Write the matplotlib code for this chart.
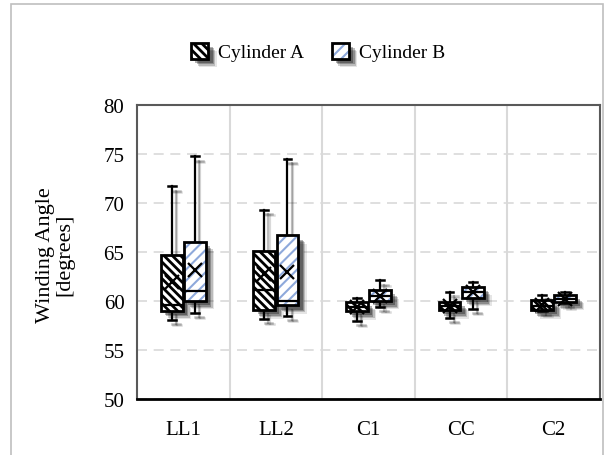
import matplotlib
matplotlib.use("Agg")
import matplotlib.pyplot as plt
import matplotlib.patheffects as pe
from matplotlib.patches import Patch, Rectangle, PathPatch
from matplotlib.legend_handler import HandlerTuple
import numpy as np

plt.rcParams['font.family'] = ['Liberation Serif', 'DejaVu Serif']

categories = ["LL1", "LL2", "C1", "CC", "C2"]
series_names = ["Cylinder A", "Cylinder B"]

# Cylinder A statistics
a_whislo = [58.1, 58.2, 58.0, 58.3, 59.0]
a_q1     = [59.0, 59.05, 58.95, 59.05, 59.05]
a_med    = [59.6, 61.1, 59.4, 59.5, 59.5]
a_q3     = [64.7, 65.1, 59.9, 59.9, 60.1]
a_whishi = [71.7, 69.3, 60.3, 60.9, 60.6]
a_mean   = [61.95, 62.8, 59.4, 59.5, 59.6]

# Cylinder B statistics
b_whislo = [58.8, 58.5, 59.4, 59.2, 59.8]
b_q1     = [60.0, 59.55, 60.0, 60.3, 59.9]
b_med    = [61.0, 60.05, 60.5, 60.9, 60.25]
b_q3     = [66.0, 66.7, 61.1, 61.45, 60.6]
b_whishi = [74.75, 74.5, 62.1, 61.9, 60.9]
b_mean   = [63.15, 63.0, 60.5, 60.9, 60.25]

yticks = [50, 55, 60, 65, 70, 75, 80]

HATCH_A, HCOL_A, HLW_A = '\\\\\\\\', 'black', 2.0
HATCH_B, HCOL_B, HLW_B = '///', '#8EA9DB', 1.5

W, H = 605, 456
fig = plt.figure(figsize=(W / 100, H / 100), dpi=100)
ax = fig.add_axes([137 / W, 1 - 400 / H, (600 - 137) / W, (400 - 106) / H])

# outer chart border
fig.patches.append(Rectangle((11 / W, -0.01), (603 - 11) / W, 1 - 5 / H + 0.01,
                             transform=fig.transFigure, fill=False,
                             edgecolor='#BFBFBF', lw=1.2))

x = np.arange(len(categories))
off = 0.125
bw = 0.235

def stats(lo, q1, med, q3, hi, mean):
    return [dict(whislo=lo[i], q1=q1[i], med=med[i], q3=q3[i], whishi=hi[i],
                 mean=mean[i], fliers=[]) for i in range(len(lo))]

def shadow_patch():
    return [pe.SimplePatchShadow(offset=(6, -6), shadow_rgbFace='black', alpha=0.10, hatch=None),
            pe.SimplePatchShadow(offset=(5, -5), shadow_rgbFace='black', alpha=0.18, hatch=None),
            pe.SimplePatchShadow(offset=(4, -4), shadow_rgbFace='black', alpha=0.25, hatch=None),
            pe.SimplePatchShadow(offset=(3, -3), shadow_rgbFace='black', alpha=0.30, hatch=None),
            pe.Normal()]

shadow_line = [pe.SimpleLineShadow(offset=(4, -4), shadow_color='black', alpha=0.15),
               pe.SimpleLineShadow(offset=(3, -3), shadow_color='black', alpha=0.25),
               pe.Normal()]

def set_hlw(artist, lw):
    if hasattr(artist, 'set_hatch_linewidth'):
        artist.set_hatch_linewidth(lw)
    orig = artist.draw
    def draw(renderer, _orig=orig, _lw=lw):
        with plt.rc_context({'hatch.linewidth': _lw}):
            _orig(renderer)
    artist.draw = draw

configs = [
    (stats(a_whislo, a_q1, a_med, a_q3, a_whishi, a_mean), x - off, HCOL_A, HATCH_A, HLW_A),
    (stats(b_whislo, b_q1, b_med, b_q3, b_whishi, b_mean), x + off, HCOL_B, HATCH_B, HLW_B),
]

for st, pos, hcol, hatch, hlw in configs:
    plt.rcParams['hatch.linewidth'] = hlw
    res = ax.bxp(st, positions=pos, widths=bw, patch_artist=True, showmeans=True,
                 meanline=False, showfliers=False, capwidths=0.085,
                 boxprops=dict(facecolor='white', edgecolor=hcol, hatch=hatch, lw=0),
                 whiskerprops=dict(color='black', lw=1.6),
                 capprops=dict(color='black', lw=1.8),
                 medianprops=dict(color='black', lw=1.6),
                 meanprops=dict(marker='x', markeredgecolor='black', markersize=10,
                                markeredgewidth=1.6))
    for b in res['boxes']:
        set_hlw(b, hlw)
        b.set_path_effects(shadow_patch())
        outline = PathPatch(b.get_path(), transform=b.get_transform(), fill=False,
                            edgecolor='black', lw=2.0, zorder=b.get_zorder() + 0.1)
        ax.add_patch(outline)
    for ln in res['whiskers'] + res['caps']:
        ln.set_path_effects(shadow_line)
        ln.set_zorder(1.5)
    for ln in res['medians'] + res['means']:
        ln.set_zorder(3)

ax.set_xlim(-0.5, len(categories) - 0.5)
ax.set_ylim(50, 80)
ax.set_yticks(yticks)
ax.set_xticks(x)
ax.set_xticklabels(categories)
ax.set_xticks(x[:-1] + 0.5, minor=True)
ax.tick_params(axis='both', which='both', length=0, labelsize=15, colors='black')
ax.tick_params(axis='y', pad=9)
ax.tick_params(axis='x', pad=15)
ax.grid(axis='y', which='major', color='#D9D9D9', lw=1.2, linestyle=(0, (6, 4)))
ax.grid(axis='x', which='minor', color='#D9D9D9', lw=1.5, linestyle='-')
ax.grid(axis='x', which='major', visible=False)
ax.set_axisbelow(True)
for s in ['left', 'top', 'right']:
    ax.spines[s].set_color('#595959')
    ax.spines[s].set_linewidth(1.5)
ax.spines['bottom'].set_color('black')
ax.spines['bottom'].set_linewidth(2)

fig.text(55 / W, 1 - 255 / H, "Winding Angle\n[degrees]", rotation=90,
         ha='center', va='center', multialignment='center', fontsize=16,
         linespacing=1.0)

# legend handles: hatched fill + black outline
plt.rcParams['hatch.linewidth'] = HLW_A
hA_fill = Patch(facecolor='white', edgecolor=HCOL_A, hatch=HATCH_A, lw=0)
hA_fill.set_path_effects(shadow_patch())
hA_edge = Patch(facecolor='none', edgecolor='black', lw=2.0)
plt.rcParams['hatch.linewidth'] = HLW_B
hB_fill = Patch(facecolor='white', edgecolor=HCOL_B, hatch=HATCH_B, lw=0)
hB_fill.set_path_effects(shadow_patch())
hB_edge = Patch(facecolor='none', edgecolor='black', lw=2.0)

leg = fig.legend([(hA_fill, hA_edge), (hB_fill, hB_edge)], series_names,
                 handler_map={tuple: HandlerTuple(ndivide=1, pad=0)},
                 loc='center', bbox_to_anchor=(318 / W, 1 - 53 / H),
                 ncol=2, frameon=False, fontsize=14, handlelength=0.9, handleheight=0.9,
                 columnspacing=1.4, handletextpad=0.5)
for p in leg.findobj(Patch):
    h = p.get_hatch()
    if h == HATCH_A:
        set_hlw(p, HLW_A)
    elif h == HATCH_B:
        set_hlw(p, HLW_B)

fig.savefig("out.png", dpi=100)
